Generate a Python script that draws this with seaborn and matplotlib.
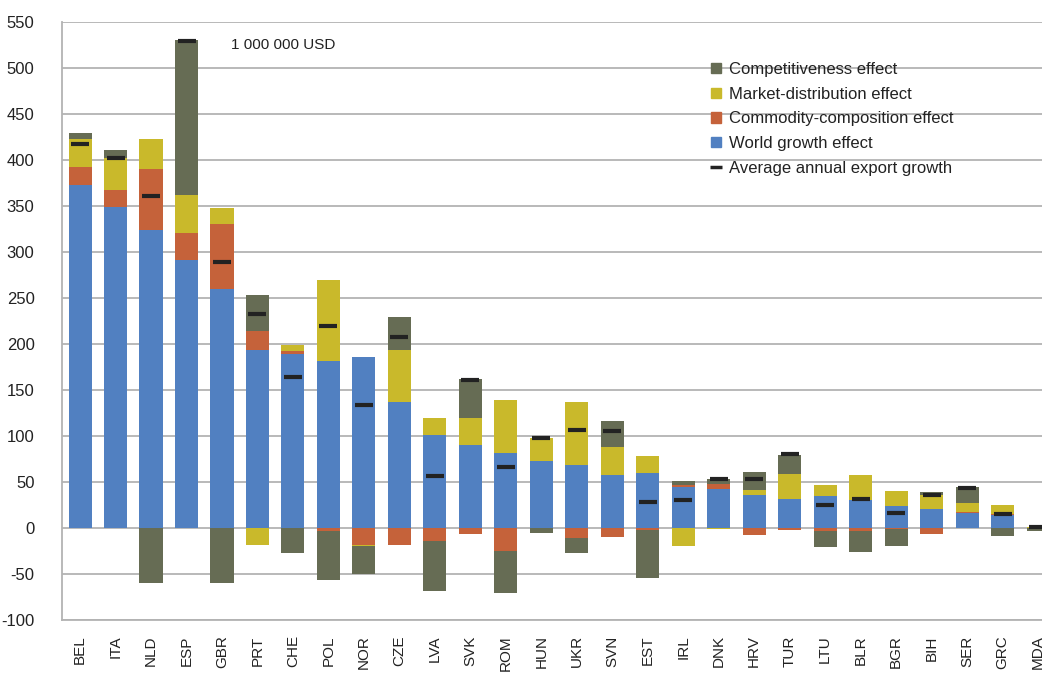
import numpy as np
import pandas as pd
import matplotlib
matplotlib.use("Agg")
import matplotlib.pyplot as plt
import seaborn as sns
from matplotlib.patches import Patch
from matplotlib.lines import Line2D

# country codes, in the order shown
countries = ['BEL', 'ITA', 'NLD', 'ESP', 'GBR', 'PRT', 'CHE', 'POL', 'NOR', 'CZE',
             'LVA', 'SVK', 'ROM', 'HUN', 'UKR', 'SVN', 'EST', 'IRL', 'DNK', 'HRV',
             'TUR', 'LTU', 'BLR', 'BGR', 'BIH', 'SER', 'GRC', 'MDA']

# effects, 1 000 000 USD
world_growth = [373, 349, 324, 291, 260, 193, 189, 182, 185.5, 137,
                101, 90, 81.5, 73, 68.5, 57.6, 60, 44.6, 42.8, 36,
                31.5, 35, 30, 23.5, 20.3, 16.3, 14, 0.5]
commodity = [19.5, 18.5, 66, 30, 70, 21, 3.5, -3.5, -19, -19,
             -14.5, -6, -25, 0, -11, -10, -2, 2, 5, -7.5,
             -2.5, -3, -3.5, -1, -7, 1, 1, 0]
market = [30.5, 35, 33, 41, 18, -18, 6.5, 88, -1, 56,
          18.5, 30, 57.5, 25, 68.5, 30.4, 18, -19.5, -1, 5.5,
          27, 11.7, 28, 16.5, 15.2, 9.5, 9.6, 1.0]
competitiveness = [6.5, 8.5, -60, 168, -60, 39, -27, -52.5, -30, 36,
                   -53.5, 41.5, -45.5, -5.5, -16, 28, -52, 4.5, 5.5, 19.5,
                   21, -17.5, -23, -19, 3.3, 17.4, -9, -3]
avg_growth = [417, 402, 361, 529.5, 289, 233, 164, 219, 134, 208,
              57, 160.5, 66, 97.5, 107, 105, 28, 30, 53, 53,
              80, 24.6, 31, 16.7, 36, 43.8, 15.6, 1.5]

series = [
    ('World growth effect', world_growth, '#5180C1'),
    ('Commodity-composition effect', commodity, '#C5623A'),
    ('Market-distribution effect', market, '#C9B92B'),
    ('Competitiveness effect', competitiveness, '#666C54'),
]

sns.set_theme(style="white")
plt.rcParams['font.family'] = ['Liberation Sans Narrow', 'Liberation Sans', 'DejaVu Sans']
plt.rcParams['axes.unicode_minus'] = False

fig = plt.figure(figsize=(10.42, 6.75), dpi=100)
ax = fig.add_axes([0.0598, 0.0815, 0.9535, 0.886])

# excel-style stacking: positives stack up from 0, negatives stack down
pos_base = np.zeros(len(countries))
neg_base = np.zeros(len(countries))
for name, vals, col in series:
    v = np.array(vals, dtype=float)
    bottom = np.where(v >= 0, pos_base, neg_base)
    df = pd.DataFrame({'country': countries, 'value': v})
    sns.barplot(data=df, x='country', y='value', order=countries, bottom=bottom,
                color=col, saturation=1, width=0.65, errorbar=None,
                linewidth=0, ax=ax, zorder=3)
    pos_base = pos_base + np.where(v >= 0, v, 0)
    neg_base = neg_base + np.where(v < 0, v, 0)

ax.plot(np.arange(len(countries)), avg_growth, linestyle='none', marker='_',
        markersize=13, markeredgewidth=3, color='#222222', zorder=5)

ax.set_xlim(-0.5, len(countries) - 0.5)
ax.set_ylim(-100, 550)
ax.set_yticks(np.arange(-100, 551, 50))
ax.yaxis.grid(True, color='#B3B3B3', linewidth=1.3, zorder=0)
ax.set_axisbelow(True)
ax.set_xlabel('')
ax.set_ylabel('')
for s in ['top', 'right']:
    ax.spines[s].set_visible(False)
for s in ['left', 'bottom']:
    ax.spines[s].set_color('#B3B3B3')
    ax.spines[s].set_linewidth(1.3)

ax.tick_params(axis='y', length=0, pad=20, labelsize=12, colors='#222222')
ax.tick_params(axis='x', length=0, pad=11, colors='#222222')
for lab in ax.get_xticklabels():
    lab.set_rotation(90)
    lab.set_family(['Liberation Sans', 'DejaVu Sans'])
    lab.set_fontsize(11)
    lab.set_va('top')
    lab.set_ha('center')

ax.text(4.25, 525, '1 000 000 USD', fontsize=11, va='center', ha='left', color='#222222')

handles = [Patch(color=c, label=n) for n, _, c in series[::-1]]
handles.append(Line2D([], [], color='#222222', marker='_', linestyle='none',
                      markersize=9, markeredgewidth=2.5,
                      label='Average annual export growth'))
leg = ax.legend(handles=handles, loc='upper left', bbox_to_anchor=(0.653, 0.933),
                frameon=False, fontsize=12, handlelength=0.6, handleheight=0.6,
                handletextpad=0.45, labelspacing=0.58, borderaxespad=0,
                borderpad=0)
for t in leg.get_texts():
    t.set_color('#222222')

fig.savefig('out.png', dpi=100)
